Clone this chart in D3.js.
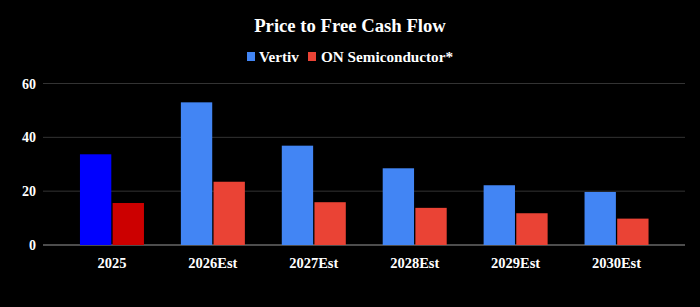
<!DOCTYPE html>
<html>
<head>
<meta charset="utf-8">
<script src="https://cdn.jsdelivr.net/npm/d3@7"></script>
<style>
  html, body { margin: 0; padding: 0; background: #000; }
  svg { display: block; }
  text { font-family: "Liberation Serif", "Times New Roman", serif; font-weight: bold; fill: #fff; }
</style>
</head>
<body>
<svg width="700" height="307"></svg>
<script>
const categories = ["2025", "2026Est", "2027Est", "2028Est", "2029Est", "2030Est"];
const seriesNames = ["Vertiv", "ON Semiconductor*"];
const vertiv = [33.7, 53.0, 36.9, 28.5, 22.2, 19.7];
const onsemi = [15.6, 23.5, 15.9, 13.8, 11.8, 9.8];
const yTicks = [0, 20, 40, 60];

// colours: first year drawn in darker shades
const seriesColors = ["#4285f4", "#ea4335"];
const actualColors = ["#0000ff", "#cc0000"];

const width = 700, height = 307;
const plot = {left: 43, right: 685, top: 83.5, bottom: 245};

const svg = d3.select("svg")
    .attr("width", width)
    .attr("height", height);

svg.append("rect")
    .attr("width", width)
    .attr("height", height)
    .attr("fill", "#000");

// title
svg.append("text")
    .attr("x", 350)
    .attr("y", 32)
    .attr("text-anchor", "middle")
    .style("font-size", "18.7px")
    .text("Price to Free Cash Flow");

// scales
const x = d3.scaleBand()
    .domain(categories)
    .range([61.5, 667])
    .paddingInner(0)
    .paddingOuter(0);

const x1 = d3.scaleBand()
    .domain(seriesNames)
    .range([0, 64])
    .paddingInner(0.04);

const y = d3.scaleLinear()
    .domain([0, 60])
    .range([plot.bottom, plot.top]);

// gridlines
svg.append("g")
    .selectAll("line")
    .data(yTicks)
    .join("line")
    .attr("x1", plot.left)
    .attr("x2", plot.right)
    .attr("y1", d => y(d))
    .attr("y2", d => y(d))
    .attr("stroke", d => d === 0 ? "#9a9a9a" : "#333")
    .attr("stroke-width", 1);

// y labels
svg.append("g")
    .selectAll("text")
    .data(yTicks)
    .join("text")
    .attr("x", 36)
    .attr("y", d => y(d) + 5)
    .attr("text-anchor", "end")
    .style("font-size", "14px")
    .text(d => d);

// bars
const rows = categories.map((c, i) => ({cat: c, i, values: [vertiv[i], onsemi[i]]}));

const groups = svg.append("g")
    .selectAll("g")
    .data(rows)
    .join("g")
    .attr("transform", d => `translate(${x(d.cat) + (x.bandwidth() - 64) / 2},0)`);

groups.selectAll("rect")
    .data(d => d.values.map((v, k) => ({v, k, i: d.i})))
    .join("rect")
    .attr("x", d => x1(seriesNames[d.k]))
    .attr("width", x1.bandwidth())
    .attr("y", d => y(d.v))
    .attr("height", d => y(0) - y(d.v))
    .attr("fill", d => d.i === 0 ? actualColors[d.k] : seriesColors[d.k]);

// x labels
svg.append("g")
    .selectAll("text")
    .data(categories)
    .join("text")
    .attr("x", d => x(d) + x.bandwidth() / 2)
    .attr("y", 267.5)
    .attr("text-anchor", "middle")
    .style("font-size", "14.5px")
    .text(d => d);

// legend
const legend = svg.append("g");
const legendItems = [
    {name: seriesNames[0], color: seriesColors[0], sx: 247, tx: 259},
    {name: seriesNames[1], color: seriesColors[1], sx: 308, tx: 321}
];
legendItems.forEach(d => {
    legend.append("rect")
        .attr("x", d.sx)
        .attr("y", 52)
        .attr("width", 8)
        .attr("height", 9)
        .attr("fill", d.color);
    legend.append("text")
        .attr("x", d.tx)
        .attr("y", 61.5)
        .style("font-size", "15.2px")
        .text(d.name);
});
</script>
</body>
</html>
